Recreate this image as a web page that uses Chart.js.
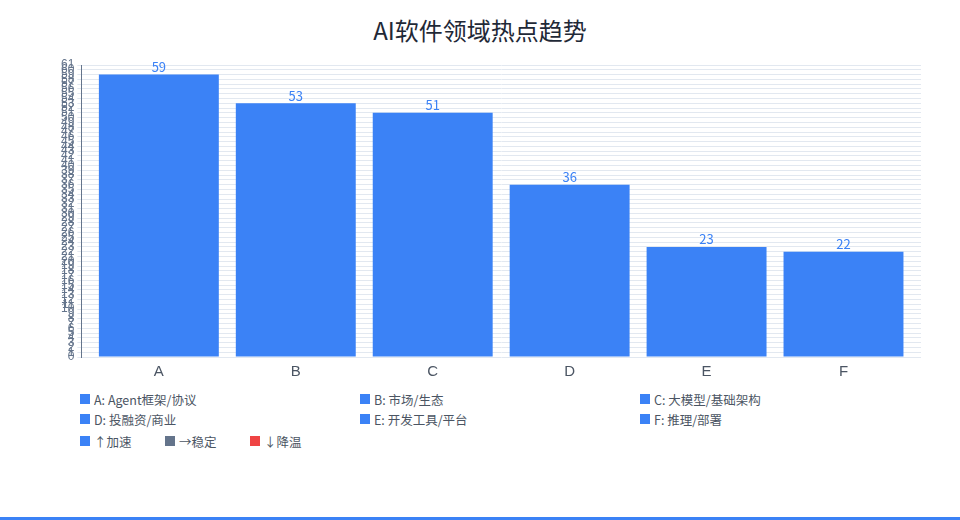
<!DOCTYPE html>
<html lang="zh">
<head>
    <meta charset="utf-8">
    <title>AI软件领域热点趋势</title>
    <script src="https://cdn.jsdelivr.net/npm/chart.js"></script>
    <style>
        body {
            margin: 0;
            font-family: "Noto Sans CJK SC", "Noto Sans", sans-serif;
            background: #fff;
        }

        #wrap {
            width: 960px;
            height: 517px;
            border-bottom: 3px solid #3b82f6;
            position: relative;
        }

        #title {
            position: absolute;
            top: 14px;
            left: 0;
            width: 960px;
            text-align: center;
            font-size: 24px;
            line-height: 32px;
            color: #1f2937;
        }

        #chartBox {
            position: absolute;
            left: 40px;
            top: 0;
            width: 890px;
            height: 387px;
        }

        #legend {
            position: absolute;
            left: 80px;
            top: 389px;
            width: 840px;
            font-size: 12.5px;
            color: #4b5563;
        }

        .row {
            display: flex;
            height: 20px;
            align-items: center;
        }

        .row .item {
            width: 280px;
            display: flex;
            align-items: center;
        }

        .row.trend {
            margin-top: 2px;
        }

        .row.trend .item {
            width: 85px;
        }

        .sw {
            width: 10px;
            height: 10px;
            margin-right: 4px;
            display: inline-block;
        }
    </style>
</head>
<body>
    <div id="wrap">
        <div id="title">AI软件领域热点趋势</div>
        <div id="chartBox"><canvas id="trendChart"></canvas></div>
        <div id="legend"></div>
    </div>
    <script>
        const labels = ['A', 'B', 'C', 'D', 'E', 'F'];
        const names = ['Agent框架/协议', '市场/生态', '大模型/基础架构', '投融资/商业', '开发工具/平台', '推理/部署'];
        const scores = [59, 53, 51, 36, 23, 22];
        const trendNames = ['↑加速', '→稳定', '↓降温'];
        const trendColors = ['#3b82f6', '#64748b', '#ef4444'];

        // legend built as html
        const legend = document.getElementById('legend');
        let html = '';
        for (let r = 0; r < labels.length; r += 3) {
            html += '<div class="row">';
            for (let i = r; i < r + 3; i++) {
                html += `<div class="item"><span class="sw" style="background:#3b82f6"></span>${labels[i]}: ${names[i]}</div>`;
            }
            html += '</div>';
        }
        html += '<div class="row trend">';
        trendNames.forEach((t, i) => {
            html += `<div class="item"><span class="sw" style="background:${trendColors[i]}"></span>${t}</div>`;
        });
        html += '</div>';
        legend.innerHTML = html;

        const valueLabels = {
            id: 'valueLabels',
            afterDatasetsDraw(chart) {
                const ctx = chart.ctx;
                const meta = chart.getDatasetMeta(0);
                ctx.save();
                ctx.fillStyle = '#3b82f6';
                ctx.font = '13px "Noto Sans CJK SC", sans-serif';
                ctx.textAlign = 'center';
                ctx.textBaseline = 'bottom';
                meta.data.forEach((bar, i) => {
                    ctx.fillText(scores[i], bar.x, bar.y - 1);
                });
                ctx.restore();
            }
        };

        // linear x so the bars sit a little inside the grid, like the original
        const points = scores.map((v, i) => ({ x: i, y: v }));

        new Chart(document.getElementById('trendChart'), {
            type: 'bar',
            data: {
                datasets: [{
                    data: points,
                    backgroundColor: '#3b82f6',
                    barPercentage: 0.952,
                    categoryPercentage: 0.92
                }]
            },
            options: {
                responsive: true,
                maintainAspectRatio: false,
                animation: false,
                layout: { padding: { left: 18, right: 9, top: 65 } },
                plugins: {
                    legend: { display: false },
                    tooltip: { enabled: false }
                },
                scales: {
                    x: {
                        type: 'linear',
                        min: -0.566,
                        max: 5.566,
                        offset: false,
                        grid: { display: false, drawTicks: false },
                        border: { display: false },
                        // one tick per category only
                        afterBuildTicks: axis => {
                            axis.ticks = labels.map((_, i) => ({ value: i }));
                        },
                        ticks: {
                            padding: 6,
                            color: '#4b5563',
                            font: { size: 15 },
                            callback: v => labels[v] ?? ''
                        }
                    },
                    y: {
                        min: 0,
                        max: 61,
                        ticks: { stepSize: 1, autoSkip: false, color: '#64748b', font: { size: 12 } },
                        grid: { color: '#e2e8f0', tickLength: 4 },
                        border: { color: '#64748b', z: -1 }
                    }
                }
            },
            plugins: [valueLabels]
        });
    </script>
</body>
</html>
